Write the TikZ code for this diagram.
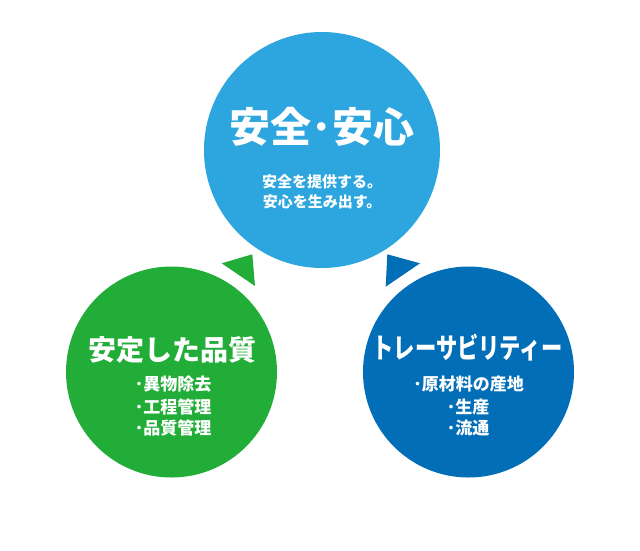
\documentclass[tikz,border=0pt]{standalone}
\usepackage{fontspec}
\newfontfamily\jp{Noto Sans CJK JP}
\definecolor{cTop}{HTML}{2DA6DF}
\definecolor{cGreen}{HTML}{22AC38}
\definecolor{cBlue}{HTML}{036EB8}
\tikzset{
  bubble/.style={circle,inner sep=0pt,draw=none},
  lbl/.style={text=white,inner sep=0pt,anchor=base,font=\jp\bfseries},
  pointer/.style={draw=none},
}
\begin{document}
\begin{tikzpicture}[x=1pt,y=-1pt]
\useasboundingbox (0,0) rectangle (640,550);
% circles
\node[bubble,fill=cTop,minimum size=236pt] (top) at (322,150) {};
\node[bubble,fill=cGreen,minimum size=211pt] (left) at (171.5,372) {};
\node[bubble,fill=cBlue,minimum size=211pt] (right) at (468.5,372) {};
% pointers
\fill[cGreen] (221.7,263.3) coordinate (g1) -- (252.3,254.3) coordinate (g2) -- (255,286) coordinate (g3) -- cycle;
\fill[cBlue] (387.3,254.3) coordinate (b1) -- (420,263.3) coordinate (b2) -- (385.7,286.7) coordinate (b3) -- cycle;
% top texts
\node[lbl,font=\jp\bfseries\fontsize{41}{41}\selectfont] (t1) at (322,142.6) {安全･安心};
\node[lbl,font=\jp\bfseries\fontsize{15}{15}\selectfont] (t2) at (322,187.7) {安全を提供する。};
\node[lbl,font=\jp\bfseries\fontsize{15}{15}\selectfont] (t3) at (322,207.7) {安心を生み出す。};
% left texts
\node[lbl,font=\jp\bfseries\fontsize{28}{28}\selectfont] (l1) at (172,360.6) {安定した品質};
\node[lbl,font=\jp\bfseries\fontsize{17}{17}\selectfont] (l2) at (173,390.5) {･異物除去};
\node[lbl,font=\jp\bfseries\fontsize{17}{17}\selectfont] (l3) at (173,413.5) {･工程管理};
\node[lbl,font=\jp\bfseries\fontsize{17}{17}\selectfont] (l4) at (173,434.5) {･品質管理};
% right texts
\node[lbl,font=\jp\bfseries\fontsize{28}{28}\selectfont] (r1) at (467.5,358.6) {\scalebox{0.76}[1]{トレーサビリティー}};
\node[lbl,font=\jp\bfseries\fontsize{17}{17}\selectfont] (r2) at (468.5,390.5) {･原材料の産地};
\node[lbl,font=\jp\bfseries\fontsize{17}{17}\selectfont] (r3) at (468,413.5) {･生産};
\node[lbl,font=\jp\bfseries\fontsize{17}{17}\selectfont] (r4) at (468,434.5) {･流通};
\end{tikzpicture}
\end{document}
